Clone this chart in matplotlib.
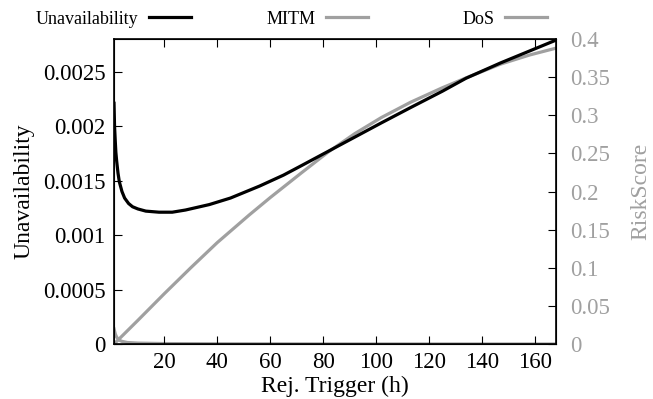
import numpy as np
import matplotlib
matplotlib.use("Agg")
import matplotlib.pyplot as plt

plt.rcParams['font.family'] = ['Liberation Serif', 'DejaVu Serif']

# unavailability (left axis)
x_unav = [1, 1.2, 1.5, 1.7, 2, 2.5, 3, 4, 5, 6.5, 8, 10, 13, 18, 23, 28, 37, 45,
          56, 65, 72, 82, 92, 102, 113, 125, 134, 147, 158, 168]
unav = [0.00221, 0.00200, 0.00185, 0.00176, 0.00168, 0.00157, 0.00149, 0.00140,
        0.00134, 0.00129, 0.00126, 0.00124, 0.00122, 0.00121, 0.00121, 0.00123,
        0.00128, 0.00134, 0.00145, 0.00155, 0.00164, 0.00177, 0.00190, 0.00203,
        0.00217, 0.00232, 0.00244, 0.00258, 0.00269, 0.00279]

# risk scores (right axis)
x_mitm = [1, 10, 20, 30, 40, 52, 60, 72, 82, 92, 102, 113, 125, 134, 147, 158, 168]
mitm = [0.0, 0.031, 0.066, 0.100, 0.133, 0.169, 0.192, 0.225, 0.252, 0.276,
        0.297, 0.317, 0.336, 0.349, 0.367, 0.379, 0.388]

x_dos = [1, 1.5, 2, 3, 4, 6, 10, 20, 40, 80, 168]
dos = [0.020, 0.013, 0.009, 0.005, 0.0035, 0.002, 0.0012, 0.0006, 0.0003, 0.0001, 0.0]

gray = '#a0a0a0'
fs = 16.5

fig = plt.figure(figsize=(6.53, 3.99), dpi=100)
ax = fig.add_axes([0.1746, 0.1378, 0.677, 0.7645])
ax2 = ax.twinx()

l1, = ax.plot(x_unav, unav, color='black', lw=2.3, zorder=5)
l2, = ax2.plot(x_mitm, mitm, color=gray, lw=2.3)
l3, = ax2.plot(x_dos, dos, color=gray, lw=2.3)
ax.set_zorder(ax2.get_zorder() + 1)
ax.patch.set_visible(False)

ax.set_xlim(1, 168)
ax.set_ylim(0, 0.0028)
ax2.set_ylim(0, 0.4)

ax.set_xticks([20, 40, 60, 80, 100, 120, 140, 160])
ax.set_yticks([0, 0.0005, 0.001, 0.0015, 0.002, 0.0025])
ax.set_yticklabels(['0', '0.0005', '0.001', '0.0015', '0.002', '0.0025'])
ax2.set_yticks([0, 0.05, 0.1, 0.15, 0.2, 0.25, 0.3, 0.35, 0.4])
ax2.set_yticklabels(['0', '0.05', '0.1', '0.15', '0.2', '0.25', '0.3', '0.35', '0.4'])

ax.tick_params(axis='x', direction='in', top=True, length=6, labelsize=fs, pad=6)
ax.tick_params(axis='y', direction='in', length=6, labelsize=fs, pad=6)
ax2.tick_params(axis='y', direction='in', length=6, labelsize=fs, labelcolor=gray, pad=10)

ax.set_xlabel('Rej. Trigger (h)', fontsize=fs + 0.5, labelpad=2)
ax.set_ylabel('Unavailability', fontsize=fs + 0.5, labelpad=6.5)
ax2.set_ylabel('RiskScore', fontsize=fs + 0.5, color=gray, labelpad=15)

for s in ax.spines.values():
    s.set_linewidth(1.2)

# legend above the plot, gnuplot style (label then sample)
for h, lab, xe in [(l1, 'Unavailability', 191), (l2, 'MITM', 368), (l3, 'DoS', 547)]:
    fig.legend([h], [lab], loc='center right', bbox_to_anchor=(xe / 653, 1 - 19 / 399),
               frameon=False, markerfirst=False, fontsize=13, handlelength=2.35,
               handletextpad=0.55, borderpad=0, borderaxespad=0)

fig.savefig('out.png', dpi=100)
